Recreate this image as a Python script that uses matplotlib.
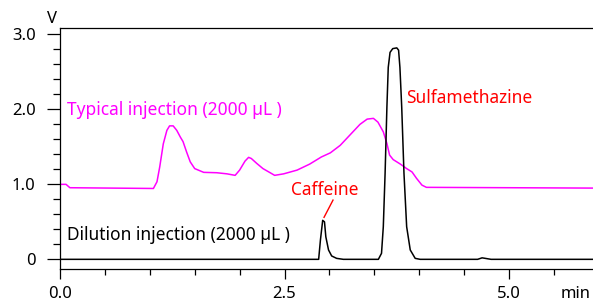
import numpy as np
import matplotlib
matplotlib.use('Agg')
import matplotlib.pyplot as plt
from matplotlib.ticker import MultipleLocator

plt.rcParams['font.family'] = ['Noto Sans', 'DejaVu Sans']

# typical injection trace (min, V)
typ_t = [0.00, 0.067, 0.11, 1.04, 1.08, 1.11, 1.15, 1.19, 1.22, 1.26, 1.30, 1.34, 1.37,
         1.41, 1.45, 1.50, 1.60, 1.745, 1.86, 1.95, 2.00, 2.06, 2.10, 2.13, 2.19, 2.26,
         2.34, 2.39, 2.49, 2.64, 2.78, 2.91, 3.01, 3.12, 3.23, 3.34, 3.42, 3.49, 3.54,
         3.60, 3.64, 3.67, 3.71, 3.79, 3.86, 3.92, 3.97, 4.03, 4.08, 5.95]
typ_v = [1.00, 1.00, 0.955, 0.945, 1.035, 1.23, 1.54, 1.72, 1.78, 1.78, 1.72, 1.63, 1.57,
         1.43, 1.30, 1.21, 1.16, 1.155, 1.14, 1.12, 1.19, 1.31, 1.36, 1.345, 1.28, 1.21,
         1.155, 1.12, 1.14, 1.19, 1.27, 1.365, 1.42, 1.52, 1.66, 1.80, 1.87, 1.88, 1.83,
         1.70, 1.545, 1.39, 1.33, 1.27, 1.21, 1.165, 1.08, 0.99, 0.96, 0.95]

# dilution injection trace
dil_t = [0.00, 2.88, 2.90, 2.925, 2.945, 2.96, 2.99, 3.025, 3.08, 3.155, 3.545, 3.58,
         3.60, 3.62, 3.64, 3.655, 3.675, 3.705, 3.75, 3.77, 3.785, 3.805, 3.83, 3.86,
         3.90, 3.955, 4.01, 4.65, 4.70, 4.75, 4.80, 5.95]
dil_v = [0.00, 0.00, 0.26, 0.52, 0.50, 0.30, 0.125, 0.045, 0.013, 0.00, 0.00, 0.08,
         0.435, 1.15, 2.03, 2.56, 2.76, 2.81, 2.82, 2.79, 2.56, 2.03, 1.15, 0.435,
         0.125, 0.013, 0.00, 0.00, 0.02, 0.01, 0.00, 0.00]

fig = plt.figure(figsize=(5.93, 3.02), dpi=100)
ax = fig.add_axes([0.1012, 0.109, 0.8988, 0.798])

ax.plot(typ_t, typ_v, color='#ff00ff', linewidth=1.1)
ax.plot(dil_t, dil_v, color='black', linewidth=1.1)

ax.set_xlim(0, 5.935)
ax.set_ylim(-0.13, 3.084)
ax.spines['right'].set_visible(False)
for s in ['top', 'left', 'bottom']:
    ax.spines[s].set_linewidth(0.9)

ax.set_xticks([0, 2.5, 5.0])
ax.set_xticklabels(['0.0', '2.5', '5.0'])
ax.xaxis.set_minor_locator(MultipleLocator(0.5))
ax.set_yticks([0, 1, 2, 3])
ax.set_yticklabels(['0', '1.0', '2.0', '3.0'])
ax.yaxis.set_minor_locator(MultipleLocator(0.2))
ax.tick_params(axis='both', which='major', direction='out', labelsize=12, width=0.9)
ax.tick_params(axis='y', which='major', length=9.5, pad=8)
ax.tick_params(axis='y', which='minor', length=5, width=0.9)
ax.tick_params(axis='x', which='major', length=7, pad=5)
ax.tick_params(axis='x', which='minor', length=4, width=0.9)

ax.text(-0.015, 1.037, 'V', transform=ax.transAxes, fontsize=12, ha='center', va='center')
ax.text(5.57, -0.352, 'min', fontsize=12, ha='left', va='top', clip_on=False)

ax.text(0.08, 1.99, 'Typical injection (2000 µL )', color='#ff00ff', fontsize=12.5, va='center')
ax.text(0.08, 0.324, 'Dilution injection (2000 µL )', color='black', fontsize=12.5, va='center')
ax.text(2.57, 0.92, 'Caffeine', color='red', fontsize=12.5, va='center')
ax.plot([3.04, 2.94], [0.79, 0.56], color='red', linewidth=1.0)
ax.text(3.85, 2.15, 'Sulfamethazine', color='red', fontsize=12.5, va='center')

plt.savefig('out.png', dpi=100)
